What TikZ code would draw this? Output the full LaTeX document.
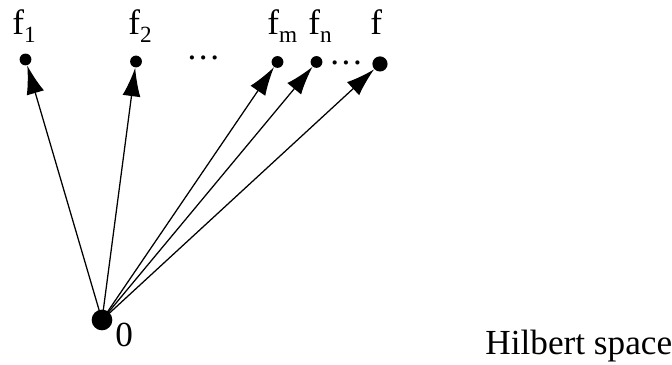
\documentclass[tikz,border=0pt]{standalone}
\usepackage{fontspec}
\setmainfont{Liberation Serif}
\usetikzlibrary{arrows.meta,positioning}

\newcommand{\fsub}[1]{f\raisebox{-3.8pt}{\fontsize{11}{12}\selectfont #1}}
\newcommand{\threedots}{.\kern1.2pt.\kern1.2pt.}

\tikzset{
  pt/.style={circle,fill=black,inner sep=0pt,minimum size=#1},
  lbl/.style={anchor=base west,inner sep=0pt,font=\fontsize{16.7}{19}\selectfont},
  vec/.style={->,line width=0.6pt,shorten <=-2pt},
}

\begin{document}
\begin{tikzpicture}[>={Latex[length=13.5pt,width=8.5pt]}]
  \useasboundingbox (0,0) rectangle (11.2,6.083);
  % points of the sequence and the limit
  \node[pt=5.6pt] (f1) at (0.425,5.092) {};
  \node[pt=5.6pt] (f2) at (2.267,5.058) {};
  \node[pt=5.6pt] (fm) at (4.625,5.05) {};
  \node[pt=5.6pt] (fn) at (5.275,5.05) {};
  \node[pt=7.2pt] (f)  at (6.333,5.017) {};
  \node[pt=9.8pt] (o)  at (1.7,0.75) {};
  % labels
  \node[lbl] (lf1) at (0.2,5.5) {\fsub{1}};
  \node[lbl] (lf2) at (2.133,5.5) {\fsub{2}};
  \node[lbl] (lfm) at (4.45,5.5) {\fsub{m}};
  \node[lbl] (lfn) at (5.133,5.5) {\fsub{n}};
  \node[lbl] (lf)  at (6.167,5.5) {f};
  \node[lbl] (dots1) at (3.12,5.092) {\threedots};
  \node[lbl] (dots2) at (5.5,5.008) {\threedots};
  \node[lbl] (lo) at (1.917,0.3) {0};
  \node[lbl] (space) at (8.083,0.167) {Hilbert space};
  % vectors from the origin
  \foreach \t in {f1,f2,fm,fn,f}
    \draw[vec] (o) -- (\t);
\end{tikzpicture}
\end{document}
